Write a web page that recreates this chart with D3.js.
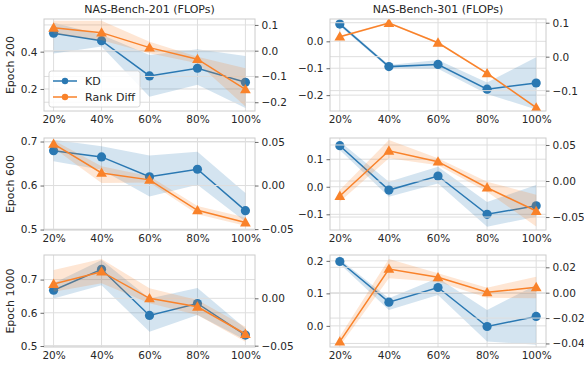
<!DOCTYPE html>
<html>
<head>
<meta charset="utf-8">
<script src="https://cdn.jsdelivr.net/npm/d3@7"></script>
<style>
  html, body { margin: 0; padding: 0; background: #fff; }
  text { font-family: "DejaVu Sans", sans-serif; fill: #262626; }
</style>
</head>
<body>
<div id="chart"></div>
<script>
// x categories
const xLabels = ['20%', '40%', '60%', '80%', '100%']
const xValues = [20, 40, 60, 80, 100]

const colTitles = ['NAS-Bench-201 (FLOPs)', 'NAS-Bench-301 (FLOPs)']
const rowLabels = ['Epoch 200', 'Epoch 600', 'Epoch 1000']

// panels: 201/200, 301/200, 201/600, 301/600, 201/1000, 301/1000
const kdMean = [
  [0.499, 0.459, 0.270, 0.311, 0.236],
  [0.064, -0.094, -0.086, -0.178, -0.155],
  [0.679, 0.665, 0.620, 0.637, 0.543],
  [0.149, -0.012, 0.039, -0.100, -0.069],
  [0.668, 0.731, 0.592, 0.628, 0.533],
  [0.198, 0.073, 0.118, -0.002, 0.029],
]
const kdLo = [
  [0.390, 0.427, 0.159, 0.222, 0.098],
  [0.057, -0.100, -0.102, -0.196, -0.253],
  [0.655, 0.636, 0.575, 0.602, 0.518],
  [0.133, -0.036, 0.012, -0.145, -0.109],
  [0.643, 0.683, 0.543, 0.593, 0.518],
  [0.190, 0.049, 0.095, -0.048, -0.058],
]
const kdHi = [
  [0.555, 0.490, 0.382, 0.413, 0.377],
  [0.071, -0.088, -0.069, -0.153, -0.059],
  [0.704, 0.689, 0.668, 0.677, 0.583],
  [0.164, 0.018, 0.073, -0.055, 0.006],
  [0.689, 0.759, 0.643, 0.675, 0.553],
  [0.205, 0.085, 0.147, 0.049, 0.126],
]
const rdMean = [
  [0.089, 0.070, 0.012, -0.033, -0.150],
  [0.059, 0.099, 0.041, -0.049, -0.150],
  [0.0477, 0.0144, 0.0065, -0.0284, -0.0424],
  [-0.0208, 0.042, 0.0268, -0.0093, -0.0417],
  [0.0151, 0.0281, 0.0, -0.0089, -0.0377],
  [-0.0386, 0.0187, 0.0121, 0.0003, 0.0043],
]
const rdLo = [
  [0.067, 0.041, -0.010, -0.049, -0.217],
  [0.056, 0.096, 0.038, -0.052, -0.153],
  [0.043, 0.003, 0.0034, -0.033, -0.0462],
  [-0.0287, 0.0315, 0.022, -0.015, -0.063],
  [0.007, 0.0158, -0.0053, -0.0176, -0.0458],
  [-0.042, 0.0113, 0.0087, -0.0039, -0.0044],
]
const rdHi = [
  [0.116, 0.116, 0.035, -0.023, -0.068],
  [0.062, 0.102, 0.044, -0.046, -0.147],
  [0.052, 0.022, 0.0106, -0.0235, -0.0367],
  [-0.0125, 0.057, 0.0315, -0.001, -0.019],
  [0.0299, 0.0415, 0.0105, -0.0018, -0.030],
  [-0.0346, 0.0265, 0.0153, 0.0039, 0.0126],
]

// axis limits and ticks
const leftDomain = [[0.082, 0.575], [-0.259, 0.083], [0.499, 0.708], [-0.157, 0.177], [0.497, 0.774], [-0.065, 0.218]]
const rightDomain = [[-0.234, 0.123], [-0.16, 0.111], [-0.051, 0.0545], [-0.068, 0.0597], [-0.0514, 0.0457], [-0.0428, 0.0297]]
const leftTicks = [[0.2, 0.4], [-0.2, -0.1, 0.0], [0.5, 0.6, 0.7], [-0.1, 0.0, 0.1], [0.5, 0.6, 0.7], [0.0, 0.1, 0.2]]
const rightTicks = [[-0.2, -0.1, 0.0, 0.1], [-0.1, 0.0, 0.1], [-0.05, 0.0, 0.05], [-0.05, 0.0, 0.05], [-0.05, 0.0], [-0.04, -0.02, 0.0, 0.02]]
const leftFmt = ['.1f', '.1f', '.1f', '.1f', '.1f', '.1f']
const rightFmt = ['.1f', '.1f', '.2f', '.2f', '.2f', '.2f']

const W = 584, H = 369
const blue = '#2a78b2', orange = '#f9822a'
const gridColor = '#dedede', spineColor = '#cccccc'
const colX = [[44, 255], [330, 546]]
const rowY = [19, 138, 255]
const plotH = 92

const svg = d3.select('#chart').append('svg')
  .attr('width', W).attr('height', H)

const minus = s => s.replace('-', '\u2212')

function drawPanel(i) {
  const r = Math.floor(i / 2), c = i % 2
  const [x0, x1] = colX[c]
  const y0 = rowY[r], y1 = y0 + plotH

  const x = d3.scaleLinear().domain([16, 104]).range([x0, x1])
  const yL = d3.scaleLinear().domain(leftDomain[i]).range([y1, y0])
  const yR = d3.scaleLinear().domain(rightDomain[i]).range([y1, y0])

  const g = svg.append('g')
  const clipId = 'clip' + i
  g.append('clipPath').attr('id', clipId)
    .append('rect').attr('x', x0).attr('y', y0).attr('width', x1 - x0).attr('height', plotH)

  // vertical grid
  g.selectAll('.vgrid').data(xValues).join('line')
    .attr('x1', d => x(d)).attr('x2', d => x(d))
    .attr('y1', y0).attr('y2', y1)
    .attr('stroke', gridColor).attr('stroke-width', 1)

  // left grid
  g.selectAll('.lgrid').data(leftTicks[i]).join('line')
    .attr('x1', x0).attr('x2', x1)
    .attr('y1', d => yL(d)).attr('y2', d => yL(d))
    .attr('stroke', gridColor).attr('stroke-width', 1)

  const idx = d3.range(xValues.length)
  const body = g.append('g').attr('clip-path', `url(#${clipId})`)

  // KD band + line
  body.append('path')
    .datum(idx)
    .attr('d', d3.area().x(j => x(xValues[j])).y0(j => yL(kdLo[i][j])).y1(j => yL(kdHi[i][j])))
    .attr('fill', blue).attr('fill-opacity', 0.2)
  body.append('path')
    .datum(idx)
    .attr('d', d3.line().x(j => x(xValues[j])).y(j => yL(kdMean[i][j])))
    .attr('fill', 'none').attr('stroke', blue).attr('stroke-width', 1.5)
  body.selectAll('.kdpt').data(idx).join('circle')
    .attr('cx', j => x(xValues[j])).attr('cy', j => yL(kdMean[i][j]))
    .attr('r', 4.6).attr('fill', blue)

  // right grid (twin axes drawn on top)
  g.selectAll('.rgrid').data(rightTicks[i]).join('line')
    .attr('x1', x0).attr('x2', x1)
    .attr('y1', d => yR(d)).attr('y2', d => yR(d))
    .attr('stroke', gridColor).attr('stroke-width', 1)

  const body2 = g.append('g').attr('clip-path', `url(#${clipId})`)
  body2.append('path')
    .datum(idx)
    .attr('d', d3.area().x(j => x(xValues[j])).y0(j => yR(rdLo[i][j])).y1(j => yR(rdHi[i][j])))
    .attr('fill', orange).attr('fill-opacity', 0.2)
  body2.append('path')
    .datum(idx)
    .attr('d', d3.line().x(j => x(xValues[j])).y(j => yR(rdMean[i][j])))
    .attr('fill', 'none').attr('stroke', orange).attr('stroke-width', 1.5)
  const tri = d3.symbol().type(d3.symbolTriangle).size(50)
  body2.selectAll('.rdpt').data(idx).join('path')
    .attr('transform', j => `translate(${x(xValues[j])},${yR(rdMean[i][j]) + 0.8})`)
    .attr('d', tri).attr('fill', orange)

  // frame
  g.append('rect')
    .attr('x', x0).attr('y', y0).attr('width', x1 - x0).attr('height', plotH)
    .attr('fill', 'none').attr('stroke', spineColor).attr('stroke-width', 1)

  // left axis
  const axL = d3.axisLeft(yL).tickValues(leftTicks[i])
    .tickFormat(d => minus(d3.format(leftFmt[i])(d))).tickSize(3.5).tickPadding(3)
  const gl = g.append('g').attr('transform', `translate(${x0},0)`).call(axL)
  gl.select('.domain').remove()
  gl.selectAll('line').attr('stroke', '#444').attr('stroke-width', 0.8)
  gl.selectAll('text').attr('font-size', 10.5).attr('fill', '#262626')
    .style('font-family', '"DejaVu Sans", sans-serif')

  // right axis
  const axR = d3.axisRight(yR).tickValues(rightTicks[i])
    .tickFormat(d => minus(d3.format(rightFmt[i])(d))).tickSize(3.5).tickPadding(3)
  const gr = g.append('g').attr('transform', `translate(${x1},0)`).call(axR)
  gr.select('.domain').remove()
  gr.selectAll('line').attr('stroke', '#444').attr('stroke-width', 0.8)
  gr.selectAll('text').attr('font-size', 10.5).attr('fill', '#262626')
    .style('font-family', '"DejaVu Sans", sans-serif')

  // bottom axis
  const axB = d3.axisBottom(x).tickValues(xValues)
    .tickFormat((d, k) => xLabels[k]).tickSize(0).tickPadding(5)
  const gb = g.append('g').attr('transform', `translate(0,${y1})`).call(axB)
  gb.select('.domain').remove()
  gb.selectAll('text').attr('font-size', 10.5).attr('fill', '#262626')
    .style('font-family', '"DejaVu Sans", sans-serif')

  if (r === 0) {
    g.append('text')
      .attr('x', (x0 + x1) / 2).attr('y', y0 - 6)
      .attr('text-anchor', 'middle').attr('font-size', 11)
      .text(colTitles[c])
  }
  if (c === 0) {
    g.append('text')
      .attr('transform', `translate(14,${(y0 + y1) / 2}) rotate(-90)`)
      .attr('text-anchor', 'middle').attr('font-size', 11)
      .text(rowLabels[r])
  }
}

d3.range(6).forEach(drawPanel)

// legend in first panel
const legend = svg.append('g').attr('transform', 'translate(49,71)')
legend.append('rect')
  .attr('width', 91).attr('height', 36).attr('rx', 2.5)
  .attr('fill', '#fff').attr('fill-opacity', 0.85)
  .attr('stroke', '#cccccc').attr('stroke-width', 0.8)
const legendItems = [{ name: 'KD', color: blue }, { name: 'Rank Diff', color: orange }]
legendItems.forEach((d, k) => {
  const ly = 10 + k * 16
  legend.append('line').attr('x1', 4).attr('x2', 28).attr('y1', ly).attr('y2', ly)
    .attr('stroke', d.color).attr('stroke-width', 1.5)
  legend.append('circle').attr('cx', 16).attr('cy', ly).attr('r', 3.2).attr('fill', d.color)
  legend.append('text').attr('x', 36).attr('y', ly + 4).attr('font-size', 11).text(d.name)
})
</script>
</body>
</html>
